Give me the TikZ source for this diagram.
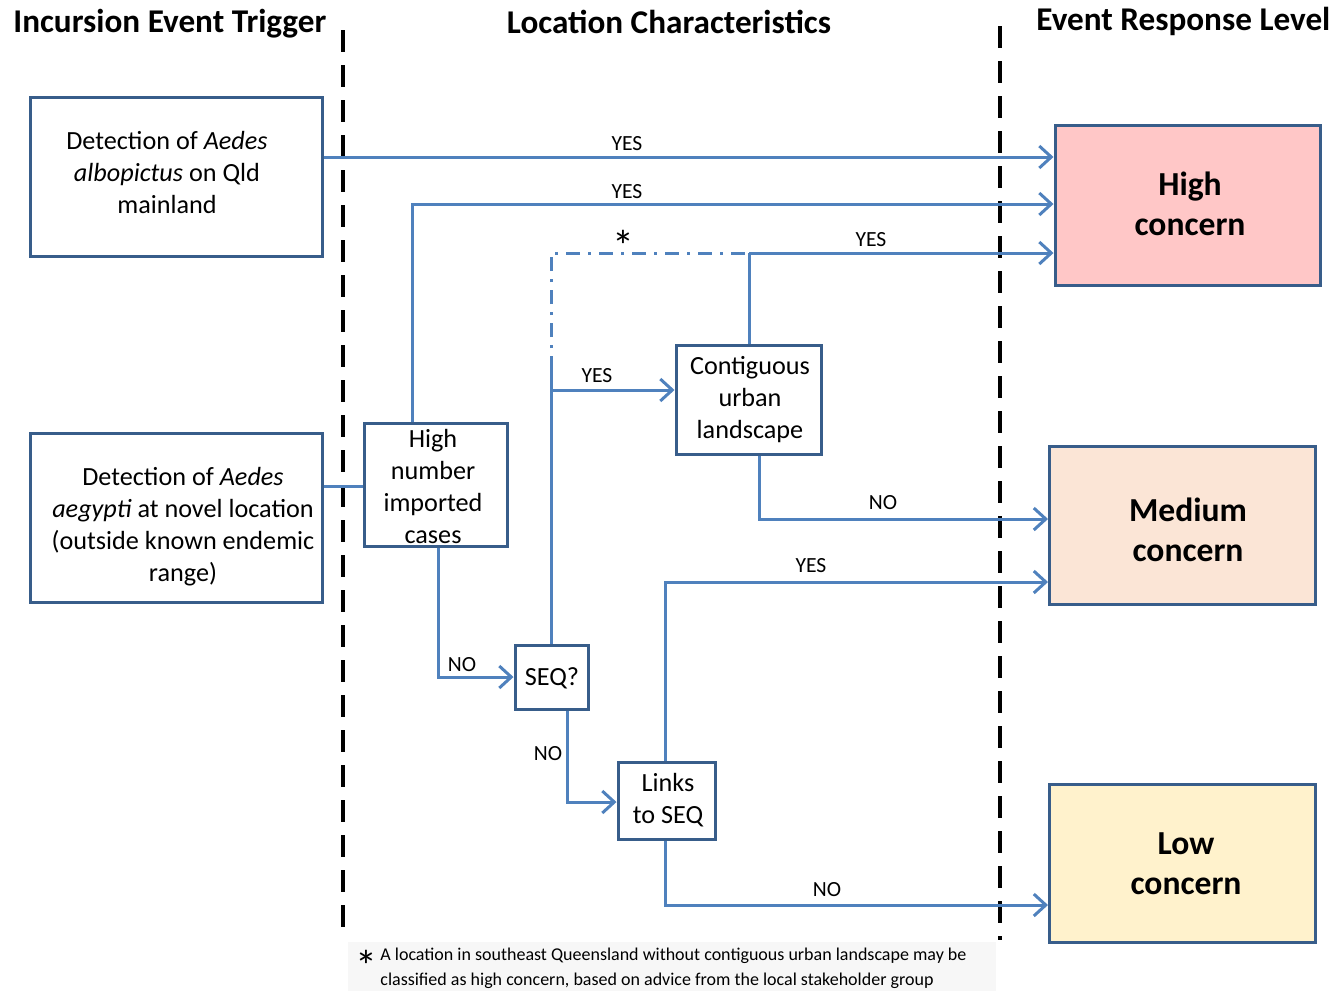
\documentclass[tikz,border=0pt]{standalone}
\usepackage{fontspec}
\setmainfont{Carlito}
\usetikzlibrary{arrows.meta,calc}
\definecolor{lineblue}{HTML}{4F81BD}
\definecolor{boxblue}{HTML}{385D8A}
\definecolor{highfill}{HTML}{FFC7C7}
\definecolor{medfill}{HTML}{FBE5D6}
\definecolor{lowfill}{HTML}{FFF2CC}
\definecolor{notefill}{HTML}{F7F7F7}
\tikzset{
  box/.style={draw=boxblue,line width=1.5pt,fill=white,align=center,inner sep=1pt,
    font=\fontsize{13}{16}\selectfont},
  boxtext/.style={align=center,inner sep=0pt,font=\fontsize{13.1}{16}\selectfont},
  concern/.style={draw=boxblue,line width=1.5pt,minimum width=133pt,minimum height=79pt},
  concerntext/.style={align=center,inner sep=0pt,font=\fontsize{16.8}{20}\selectfont\bfseries},
  conn/.style={draw=lineblue,line width=1.5pt},
  arr/.style={conn,-{Straight Barb[length=6pt,width=11pt,line width=1.5pt]}},
  lbl/.style={font=\fontsize{10.8}{12}\selectfont,inner sep=0pt},
  heading/.style={font=\fontsize{16.6}{18}\selectfont\bfseries,inner sep=0pt},
  divider/.style={line width=2pt,dash pattern=on 11pt off 6.5pt},
  dashdot/.style={draw=lineblue,line width=1.5pt,dash pattern=on 7pt off 4pt on 1.5pt off 4pt},
  starmark/.style={font=\fontsize{22}{22}\selectfont,inner sep=0pt},
  notetext/.style={anchor=base west,inner sep=0pt,text height=7pt,text depth=2pt,
    font=\fontsize{9}{11.5}\selectfont}
}
\begin{document}
\begin{tikzpicture}[x=0.5pt,y=-0.5pt]
\useasboundingbox (0,0) rectangle (1337,991);
% headings
\node[heading,anchor=west] (h1) at (13,24) {Incursion Event Trigger};
\node[heading] (h2) at (669,22) {Location Characteristics};
\node[heading,anchor=west] (h3) at (1036,21) {Event Response Level};
% dividers
\draw[divider] (343,30) -- (343,935);
\draw[divider] (1000,26) -- (1000,940);
% footnote
\fill[notefill] (348,942) rectangle (996,991);
\node[starmark] (star2) at (366,966) {*};
\node[notetext] (note1) at (380,960)
  {A location in southeast Queensland without contiguous urban landscape may be};
\node[notetext] (note2) at (380,985)
  {classified as high concern, based on advice from the local stakeholder group};
% boxes
\node[box,minimum width=146pt,minimum height=79.5pt] (b1) at (176,176.5) {};
\node[boxtext] (b1t) at (167,172)
  {Detection of \textit{Aedes}\\\textit{albopictus} on Qld\\mainland};
\node[box,minimum width=146pt,minimum height=84.5pt] (b2) at (176,517.5) {};
\node[boxtext] (b2t) at (183,527)
  {Detection of \textit{Aedes}\\\textit{aegypti} at novel location\\(outside known endemic\\range)};
\node[box,minimum width=71.5pt,minimum height=61.5pt] (hn) at (435.5,484.5) {};
\node[boxtext] (hnt) at (433,486) {High\\number\\imported\\cases};
\node[box,minimum width=72.5pt,minimum height=54.5pt] (cu) at (748.5,399.5) {};
\node[boxtext] (cut) at (750,400) {Contiguous\\urban\\landscape};
\node[box,minimum width=36.5pt,minimum height=32pt] (seq) at (551.5,677) {};
\node[boxtext] (seqt) at (552,678) {SEQ?};
\node[box,minimum width=48.5pt,minimum height=38.5pt] (links) at (666.5,800.5) {};
\node[boxtext] (linkst) at (668,800) {Links\\to SEQ};
\node[concern,fill=highfill,minimum width=132.5pt,minimum height=80pt] (high) at (1187.5,205) {};
\node[concerntext] (hight) at (1190,204) {High\\concern};
\node[concern,fill=medfill] (med) at (1182.5,525) {};
\node[concerntext] (medt) at (1188,530) {Medium\\concern};
\node[concern,fill=lowfill] (low) at (1182.5,863) {};
\node[concerntext] (lowt) at (1186,864) {Low\\concern};
% connectors
\draw[arr] (b1.east |- 0,157) -- (high.west |- 0,157);
\node[lbl] (y1) at (627,144) {YES};
\draw[arr] (412,0 |- hn.north) -- (412,204) -- (high.west |- 0,204);
\node[lbl] (y2) at (627,192) {YES};
\draw[conn] (b2.east |- 0,486) -- (hn.west |- 0,486);
\draw[conn] (551,0 |- seq.north) -- (551,370);
\draw[dashdot] (551,370) -- (551,253) -- (749,253);
\node[starmark] (star1) at (623,246) {*};
\draw[arr] (749,253) -- (high.west |- 0,253);
\node[lbl] (y3) at (871,240) {YES};
\draw[conn] (749,0 |- cu.north) -- (749,253);
\draw[arr] (551,390) -- (cu.west |- 0,390);
\node[lbl] (y4) at (597,376) {YES};
\draw[arr] (759,0 |- cu.south) -- (759,519) -- (med.west |- 0,519);
\node[lbl] (n1) at (883,503) {NO};
\draw[arr] (438,0 |- hn.south) -- (438,677) -- (seq.west);
\node[lbl] (n2) at (462,665) {NO};
\draw[arr] (567,0 |- seq.south) -- (567,802) -- (links.west |- 0,802);
\node[lbl] (n3) at (548,754) {NO};
\draw[arr] (665,0 |- links.north) -- (665,582) -- (med.west |- 0,582);
\node[lbl] (y5) at (811,566) {YES};
\draw[arr] (665,0 |- links.south) -- (665,905) -- (low.west |- 0,905);
\node[lbl] (n4) at (827,890) {NO};
\end{tikzpicture}
\end{document}
